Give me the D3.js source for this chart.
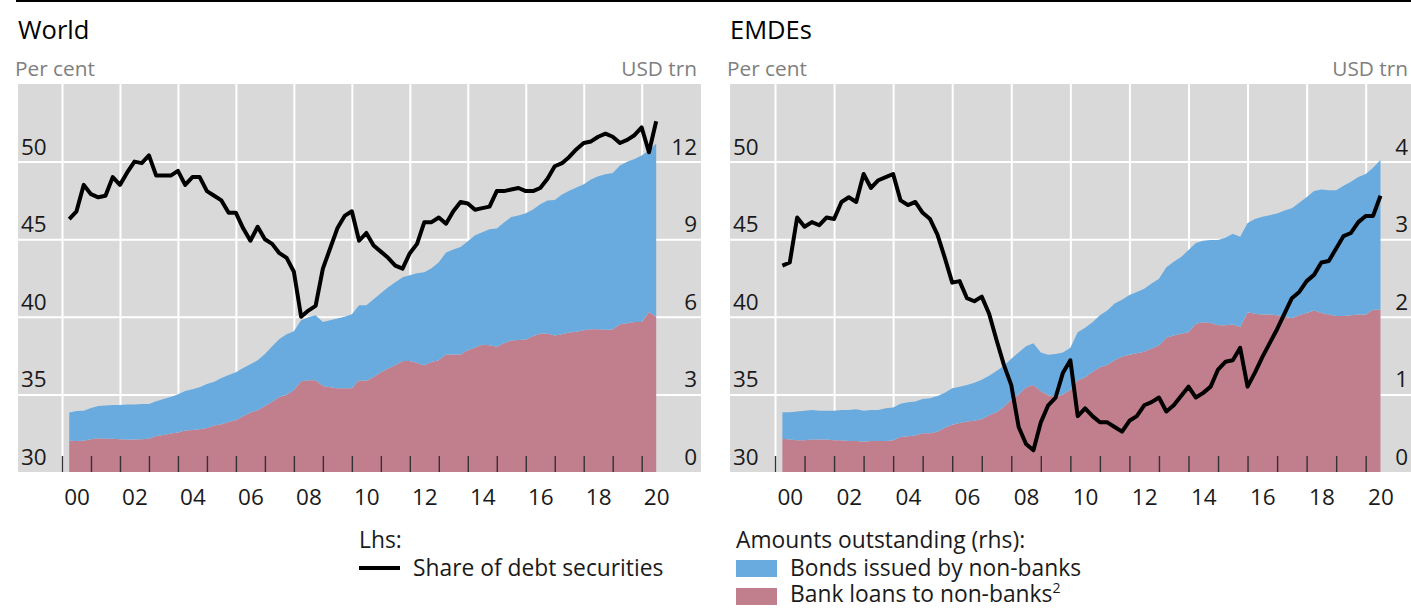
<!DOCTYPE html>
<html>
<head>
<meta charset="utf-8">
<script src="https://cdn.jsdelivr.net/npm/d3@7"></script>
<style>
  body { margin: 0; background: #fff; }
  svg { display: block; font-family: "Open Sans", sans-serif; }
</style>
</head>
<body>
<div id="wrapper"></div>
<script>
// quarterly data, 2000 Q1 to 2020 Q2
const firstYear = 2000
const quarterCount = 82

const xTickLabels = ["00", "02", "04", "06", "08", "10", "12", "14", "16", "18", "20"]
const labelYears = [2000, 2002, 2004, 2006, 2008, 2010, 2012, 2014, 2016, 2018, 2020]
const pctTicks = [30, 35, 40, 45, 50]
const worldTrnTicks = [0, 3, 6, 9, 12]
const emdeTrnTicks = [0, 1, 2, 3, 4]

// World: share of debt securities (per cent, lhs)
const worldShare = [
  46.3, 46.8, 48.5, 47.9, 47.7, 47.8, 49.0, 48.5, 49.3, 50.0,
  49.9, 50.4, 49.1, 49.1, 49.1, 49.4, 48.5, 49.0, 49.0, 48.1,
  47.8, 47.5, 46.7, 46.7, 45.7, 44.9, 45.8, 45.0, 44.7, 44.1,
  43.8, 42.9, 40.0, 40.4, 40.7, 43.1, 44.4, 45.7, 46.5, 46.8,
  44.9, 45.4, 44.6, 44.2, 43.8, 43.3, 43.1, 44.1, 44.7, 46.1,
  46.1, 46.4, 46.0, 46.8, 47.4, 47.3, 46.9, 47.0, 47.1, 48.1,
  48.1, 48.2, 48.3, 48.1, 48.1, 48.3, 48.9, 49.7, 49.9, 50.3,
  50.8, 51.2, 51.3, 51.6, 51.8, 51.6, 51.2, 51.4, 51.7, 52.2,
  50.6, 52.6
]
// World: bank loans to non-banks (USD trn, rhs)
const worldLoans = [
  1.21, 1.20, 1.21, 1.27, 1.30, 1.29, 1.29, 1.27, 1.26, 1.26,
  1.27, 1.29, 1.39, 1.43, 1.49, 1.53, 1.60, 1.62, 1.65, 1.70,
  1.80, 1.85, 1.93, 2.01, 2.16, 2.30, 2.39, 2.55, 2.72, 2.90,
  2.99, 3.17, 3.51, 3.55, 3.55, 3.32, 3.28, 3.24, 3.24, 3.24,
  3.55, 3.53, 3.67, 3.86, 4.00, 4.13, 4.29, 4.29, 4.21, 4.13,
  4.25, 4.32, 4.54, 4.54, 4.54, 4.71, 4.81, 4.92, 4.90, 4.84,
  4.98, 5.08, 5.10, 5.12, 5.25, 5.35, 5.35, 5.28, 5.33, 5.39,
  5.42, 5.48, 5.52, 5.52, 5.50, 5.51, 5.71, 5.75, 5.80, 5.80,
  6.19, 6.00
]
// World: bonds issued by non-banks (USD trn, rhs)
const worldBonds = [
  1.09, 1.16, 1.16, 1.20, 1.25, 1.28, 1.30, 1.32, 1.35, 1.35,
  1.36, 1.34, 1.35, 1.39, 1.41, 1.48, 1.53, 1.58, 1.63, 1.70,
  1.69, 1.78, 1.82, 1.85, 1.86, 1.87, 1.93, 2.01, 2.14, 2.24,
  2.34, 2.27, 2.36, 2.43, 2.51, 2.48, 2.59, 2.69, 2.76, 2.86,
  2.90, 2.92, 3.01, 3.05, 3.14, 3.21, 3.24, 3.32, 3.47, 3.59,
  3.63, 3.79, 3.95, 4.06, 4.16, 4.21, 4.34, 4.35, 4.48, 4.57,
  4.67, 4.78, 4.82, 4.88, 4.90, 5.00, 5.15, 5.24, 5.40, 5.48,
  5.58, 5.64, 5.79, 5.91, 6.01, 6.05, 6.14, 6.24, 6.30, 6.44,
  6.24, 6.70
]

// EMDEs
const emdeShare = [
  43.3, 43.5, 46.4, 45.8, 46.1, 45.9, 46.4, 46.3, 47.4, 47.7,
  47.4, 49.2, 48.3, 48.8, 49.0, 49.2, 47.5, 47.2, 47.4, 46.7,
  46.3, 45.3, 43.8, 42.2, 42.3, 41.2, 41.0, 41.3, 40.2, 38.5,
  36.9, 35.6, 32.9, 31.8, 31.4, 33.2, 34.3, 34.8, 36.4, 37.2,
  33.6, 34.1, 33.6, 33.2, 33.2, 32.9, 32.6, 33.3, 33.6, 34.3,
  34.5, 34.8, 33.9, 34.3, 34.9, 35.5, 34.8, 35.1, 35.5, 36.6,
  37.1, 37.2, 38.0, 35.5, 36.4, 37.4, 38.3, 39.2, 40.2, 41.2,
  41.6, 42.3, 42.7, 43.5, 43.6, 44.4, 45.2, 45.4, 46.1, 46.5,
  46.5, 47.8
]
const emdeLoans = [
  0.43, 0.42, 0.41, 0.41, 0.42, 0.42, 0.42, 0.41, 0.41, 0.40,
  0.40, 0.39, 0.40, 0.40, 0.40, 0.41, 0.45, 0.46, 0.47, 0.50,
  0.50, 0.52, 0.57, 0.61, 0.63, 0.65, 0.66, 0.68, 0.73, 0.77,
  0.84, 0.93, 1.00, 1.09, 1.12, 1.04, 0.99, 0.97, 1.00, 1.06,
  1.18, 1.22, 1.29, 1.35, 1.38, 1.44, 1.49, 1.51, 1.53, 1.55,
  1.59, 1.63, 1.73, 1.76, 1.78, 1.80, 1.91, 1.93, 1.92, 1.89,
  1.89, 1.90, 1.87, 2.06, 2.04, 2.03, 2.03, 2.02, 2.00, 1.98,
  2.02, 2.05, 2.08, 2.05, 2.03, 2.01, 2.01, 2.02, 2.03, 2.03,
  2.09, 2.09
]
const emdeBonds = [
  0.34, 0.35, 0.37, 0.38, 0.38, 0.37, 0.37, 0.38, 0.39, 0.40,
  0.41, 0.40, 0.40, 0.40, 0.42, 0.42, 0.43, 0.44, 0.44, 0.44,
  0.45, 0.46, 0.45, 0.47, 0.47, 0.47, 0.49, 0.51, 0.51, 0.53,
  0.53, 0.53, 0.54, 0.53, 0.54, 0.50, 0.52, 0.55, 0.54, 0.54,
  0.62, 0.64, 0.64, 0.67, 0.70, 0.73, 0.73, 0.77, 0.79, 0.81,
  0.84, 0.86, 0.91, 0.95, 0.99, 1.06, 1.04, 1.05, 1.07, 1.10,
  1.13, 1.17, 1.16, 1.15, 1.22, 1.26, 1.28, 1.31, 1.37, 1.42,
  1.45, 1.49, 1.54, 1.59, 1.60, 1.62, 1.68, 1.72, 1.77, 1.81,
  1.83, 1.93
]

const colors = { loans: "#c17e8d", bonds: "#6aabdf", grid: "#d9d9d9" }

// quarter-end positions in decimal years
const quarters = d3.range(quarterCount).map(i => firstYear + (i + 1) / 4)
const yearTicks = d3.range(2000, 2021)

const width = 1411
const height = 610
const plotTop = 84
const plotBottom = 472

const svg = d3.select("#wrapper")
  .append("svg")
    .attr("width", width)
    .attr("height", height)

// rule across the top
svg.append("line")
    .attr("x1", 16).attr("x2", width)
    .attr("y1", 1).attr("y2", 1)
    .attr("stroke", "#000")
    .attr("stroke-width", 2)

const panels = [
  { title: "World", left: 18, right: 701, x2000: 62, x2020: 641.7, rLabelX: 697,
    share: worldShare, loans: worldLoans, bonds: worldBonds, rTicks: worldTrnTicks, rMax: 15 },
  { title: "EMDEs", left: 730, right: 1430, x2000: 775, x2020: 1365.7, rLabelX: 1408,
    share: emdeShare, loans: emdeLoans, bonds: emdeBonds, rTicks: emdeTrnTicks, rMax: 5 },
]

panels.forEach(drawPanel)

function drawPanel(p) {
  const g = svg.append("g")

  const xScale = d3.scaleLinear().domain([2000, 2020]).range([p.x2000, p.x2020])
  const yLeft = d3.scaleLinear().domain([30, 55]).range([plotBottom, plotTop])
  const yRight = d3.scaleLinear().domain([0, p.rMax]).range([plotBottom, plotTop])

  // header texts
  g.append("text")
      .attr("x", p.left).attr("y", 39)
      .attr("fill", "#000")
      .style("font-size", "25.5px")
      .text(p.title)
  g.append("text")
      .attr("x", p.left - 3).attr("y", 76)
      .attr("fill", "#808080")
      .style("font-size", "20.8px")
      .text("Per cent")
  g.append("text")
      .attr("x", p.rLabelX).attr("y", 76)
      .attr("fill", "#808080")
      .attr("text-anchor", "end")
      .style("font-size", "20.8px")
      .text("USD trn")

  // background
  g.append("rect")
      .attr("x", p.left).attr("y", plotTop)
      .attr("width", p.right - p.left)
      .attr("height", plotBottom - plotTop)
      .attr("fill", colors.grid)

  // gridlines
  const vGrid = g.append("g")
      .attr("transform", `translate(0,${plotBottom})`)
      .call(d3.axisBottom(xScale).tickValues(labelYears).tickSize(-(plotBottom - plotTop)).tickFormat(""))
  vGrid.select(".domain").remove()
  vGrid.selectAll("line").attr("stroke", "#fff").attr("stroke-width", 2)

  const hGrid = g.append("g")
      .attr("transform", `translate(${p.left},0)`)
      .call(d3.axisLeft(yLeft).tickValues([35, 40, 45, 50]).tickSize(-(p.right - p.left)).tickFormat(""))
  hGrid.select(".domain").remove()
  hGrid.selectAll("line").attr("stroke", "#fff").attr("stroke-width", 2)

  // stacked areas
  const rows = quarters.map((t, i) => ({ t: t, loans: p.loans[i], bonds: p.bonds[i] }))
  const stacked = d3.stack().keys(["loans", "bonds"])(rows)
  const area = d3.area()
      .x(d => xScale(d.data.t))
      .y0(d => yRight(d[0]))
      .y1(d => yRight(d[1]))
  g.append("g").selectAll("path")
    .data(stacked)
    .join("path")
      .attr("fill", d => colors[d.key])
      .attr("d", area)

  // year tick marks
  const yearAxis = g.append("g")
      .attr("transform", `translate(0,${plotBottom})`)
      .call(d3.axisBottom(xScale).tickValues(yearTicks).tickSize(-16).tickFormat(""))
  yearAxis.select(".domain").remove()
  yearAxis.selectAll("line").attr("stroke", "#333").attr("stroke-width", 1.4)

  // share line
  const line = d3.line()
      .x((d, i) => xScale(quarters[i]))
      .y(d => yLeft(d))
  g.append("path")
      .datum(p.share)
      .attr("fill", "none")
      .attr("stroke", "#000")
      .attr("stroke-width", 4)
      .attr("stroke-linejoin", "round")
      .attr("d", line)

  // y labels, sitting above their gridlines
  g.append("g").selectAll("text")
    .data(pctTicks)
    .join("text")
      .attr("x", p.left + 3)
      .attr("y", d => yLeft(d) - 7)
      .attr("fill", "#1a1a1a")
      .style("font-size", "22.5px")
      .text(d => d)
  g.append("g").selectAll("text")
    .data(p.rTicks)
    .join("text")
      .attr("x", p.rLabelX)
      .attr("y", d => yRight(d) - 7)
      .attr("text-anchor", "end")
      .attr("fill", "#1a1a1a")
      .style("font-size", "22.5px")
      .text(d => d)

  // x labels, centred in their year
  const xAxis = g.append("g")
      .attr("transform", `translate(0,505)`)
      .call(d3.axisBottom(xScale)
        .tickValues(labelYears.map(y => y + 0.5))
        .tickSize(0)
        .tickFormat((d, i) => xTickLabels[i]))
  xAxis.select(".domain").remove()
  xAxis.selectAll("text")
      .attr("y", 0).attr("dy", null)
      .attr("fill", "#1a1a1a")
      .style("font-size", "22.5px")
      .style("font-family", "'Open Sans', sans-serif")
}

// legend
const legend = svg.append("g").style("font-size", "22.8px").attr("fill", "#1a1a1a")
legend.append("text").attr("x", 359).attr("y", 548).text("Lhs:")
legend.append("line")
    .attr("x1", 359).attr("x2", 400)
    .attr("y1", 568).attr("y2", 568)
    .attr("stroke", "#000").attr("stroke-width", 4)
legend.append("text").attr("x", 413).attr("y", 576).text("Share of debt securities")

legend.append("text").attr("x", 736).attr("y", 548).text("Amounts outstanding (rhs):")
legend.append("rect").attr("x", 736).attr("y", 560).attr("width", 41).attr("height", 17).attr("fill", colors.bonds)
legend.append("text").attr("x", 790).attr("y", 576).text("Bonds issued by non-banks")
legend.append("rect").attr("x", 736).attr("y", 588).attr("width", 41).attr("height", 17).attr("fill", colors.loans)
const loanLabel = legend.append("text").attr("x", 790).attr("y", 602)
loanLabel.append("tspan").text("Bank loans to non-banks")
loanLabel.append("tspan").attr("dy", -9).style("font-size", "14px").text("2")
</script>
</body>
</html>
